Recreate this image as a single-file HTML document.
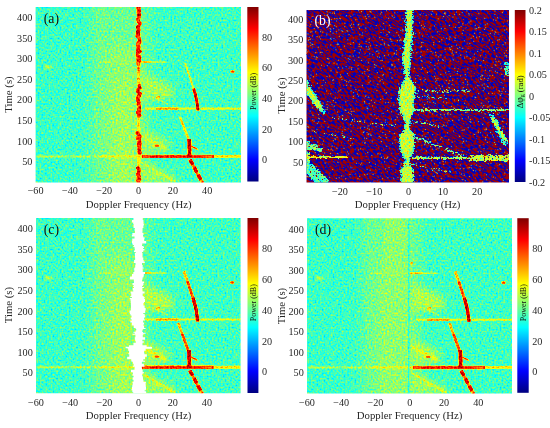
<!DOCTYPE html><html><head><meta charset="utf-8"><style>html,body{margin:0;padding:0;background:#fff;overflow:hidden}svg{display:block}</style></head><body>
<svg width="550" height="428" viewBox="0 0 550 428">
<defs><linearGradient id="cbjet" x1="0" y1="0" x2="0" y2="1"><stop offset="0.0000" stop-color="#800000"/><stop offset="0.0156" stop-color="#8f0000"/><stop offset="0.0312" stop-color="#9f0000"/><stop offset="0.0469" stop-color="#af0000"/><stop offset="0.0625" stop-color="#bf0000"/><stop offset="0.0781" stop-color="#cf0000"/><stop offset="0.0938" stop-color="#df0000"/><stop offset="0.1094" stop-color="#ef0000"/><stop offset="0.1250" stop-color="#ff0000"/><stop offset="0.1406" stop-color="#ff1000"/><stop offset="0.1562" stop-color="#ff2000"/><stop offset="0.1719" stop-color="#ff3000"/><stop offset="0.1875" stop-color="#ff4000"/><stop offset="0.2031" stop-color="#ff5000"/><stop offset="0.2188" stop-color="#ff6000"/><stop offset="0.2344" stop-color="#ff7000"/><stop offset="0.2500" stop-color="#ff8000"/><stop offset="0.2656" stop-color="#ff8f00"/><stop offset="0.2812" stop-color="#ff9f00"/><stop offset="0.2969" stop-color="#ffaf00"/><stop offset="0.3125" stop-color="#ffbf00"/><stop offset="0.3281" stop-color="#ffcf00"/><stop offset="0.3438" stop-color="#ffdf00"/><stop offset="0.3594" stop-color="#ffef00"/><stop offset="0.3750" stop-color="#ffff00"/><stop offset="0.3906" stop-color="#efff10"/><stop offset="0.4062" stop-color="#dfff20"/><stop offset="0.4219" stop-color="#cfff30"/><stop offset="0.4375" stop-color="#bfff40"/><stop offset="0.4531" stop-color="#afff50"/><stop offset="0.4688" stop-color="#9fff60"/><stop offset="0.4844" stop-color="#8fff70"/><stop offset="0.5000" stop-color="#80ff80"/><stop offset="0.5156" stop-color="#70ff8f"/><stop offset="0.5312" stop-color="#60ff9f"/><stop offset="0.5469" stop-color="#50ffaf"/><stop offset="0.5625" stop-color="#40ffbf"/><stop offset="0.5781" stop-color="#30ffcf"/><stop offset="0.5938" stop-color="#20ffdf"/><stop offset="0.6094" stop-color="#10ffef"/><stop offset="0.6250" stop-color="#00ffff"/><stop offset="0.6406" stop-color="#00efff"/><stop offset="0.6562" stop-color="#00dfff"/><stop offset="0.6719" stop-color="#00cfff"/><stop offset="0.6875" stop-color="#00bfff"/><stop offset="0.7031" stop-color="#00afff"/><stop offset="0.7188" stop-color="#009fff"/><stop offset="0.7344" stop-color="#008fff"/><stop offset="0.7500" stop-color="#0080ff"/><stop offset="0.7656" stop-color="#0070ff"/><stop offset="0.7812" stop-color="#0060ff"/><stop offset="0.7969" stop-color="#0050ff"/><stop offset="0.8125" stop-color="#0040ff"/><stop offset="0.8281" stop-color="#0030ff"/><stop offset="0.8438" stop-color="#0020ff"/><stop offset="0.8594" stop-color="#0010ff"/><stop offset="0.8750" stop-color="#0000ff"/><stop offset="0.8906" stop-color="#0000ef"/><stop offset="0.9062" stop-color="#0000df"/><stop offset="0.9219" stop-color="#0000cf"/><stop offset="0.9375" stop-color="#0000bf"/><stop offset="0.9531" stop-color="#0000af"/><stop offset="0.9688" stop-color="#00009f"/><stop offset="0.9844" stop-color="#00008f"/><stop offset="1.0000" stop-color="#000080"/></linearGradient><filter id="fa" filterUnits="userSpaceOnUse" x="0" y="0" width="260" height="190" color-interpolation-filters="sRGB">
<feTurbulence type="fractalNoise" baseFrequency="0.55" numOctaves="1" seed="3" result="t"/>
<feColorMatrix in="t" type="matrix" values="1 0 0 0 0 1 0 0 0 0 1 0 0 0 0 0 0 0 0 1" result="n"/>
<feComposite in="SourceGraphic" in2="n" operator="arithmetic" k1="0" k2="1" k3="0.36" k4="-0.18" result="s"/>
<feComponentTransfer in="s" result="c">
<feFuncR type="table" tableValues="0.000 0.000 0.000 0.000 0.000 0.000 0.000 0.000 0.000 0.000 0.000 0.000 0.000 0.000 0.000 0.000 0.000 0.000 0.000 0.000 0.000 0.000 0.000 0.000 0.000 0.062 0.125 0.188 0.250 0.312 0.375 0.438 0.500 0.562 0.625 0.688 0.750 0.812 0.875 0.938 1.000 1.000 1.000 1.000 1.000 1.000 1.000 1.000 1.000 1.000 1.000 1.000 1.000 1.000 1.000 1.000 1.000 0.938 0.875 0.812 0.750 0.688 0.625 0.562 0.500"/>
<feFuncG type="table" tableValues="0.000 0.000 0.000 0.000 0.000 0.000 0.000 0.000 0.000 0.062 0.125 0.188 0.250 0.312 0.375 0.438 0.500 0.562 0.625 0.688 0.750 0.812 0.875 0.938 1.000 1.000 1.000 1.000 1.000 1.000 1.000 1.000 1.000 1.000 1.000 1.000 1.000 1.000 1.000 1.000 1.000 0.938 0.875 0.812 0.750 0.688 0.625 0.562 0.500 0.438 0.375 0.312 0.250 0.188 0.125 0.062 0.000 0.000 0.000 0.000 0.000 0.000 0.000 0.000 0.000"/>
<feFuncB type="table" tableValues="0.500 0.562 0.625 0.688 0.750 0.812 0.875 0.938 1.000 1.000 1.000 1.000 1.000 1.000 1.000 1.000 1.000 1.000 1.000 1.000 1.000 1.000 1.000 1.000 1.000 0.938 0.875 0.812 0.750 0.688 0.625 0.562 0.500 0.438 0.375 0.312 0.250 0.188 0.125 0.062 0.000 0.000 0.000 0.000 0.000 0.000 0.000 0.000 0.000 0.000 0.000 0.000 0.000 0.000 0.000 0.000 0.000 0.000 0.000 0.000 0.000 0.000 0.000 0.000 0.000"/>
</feComponentTransfer>
<feGaussianBlur in="c" stdDeviation="0.6"/>
</filter><filter id="bl3" x="-50%" y="-50%" width="200%" height="200%"><feGaussianBlur stdDeviation="3"/></filter><filter id="rag" x="-10%" y="-10%" width="120%" height="120%" color-interpolation-filters="sRGB"><feTurbulence type="fractalNoise" baseFrequency="0.25" numOctaves="2" seed="5" result="t"/><feDisplacementMap in="SourceGraphic" in2="t" scale="6" xChannelSelector="R" yChannelSelector="G" result="d"/><feGaussianBlur in="d" stdDeviation="0.6"/></filter><filter id="bl05" x="-10%" y="-10%" width="120%" height="120%"><feGaussianBlur stdDeviation="0.5"/></filter><filter id="bl1" x="-50%" y="-50%" width="200%" height="200%"><feGaussianBlur stdDeviation="1"/></filter><filter id="bl6" x="-50%" y="-50%" width="200%" height="200%"><feGaussianBlur stdDeviation="6"/></filter><filter id="fb1" filterUnits="userSpaceOnUse" x="200" y="-120" width="420" height="430" color-interpolation-filters="sRGB">
<feTurbulence type="fractalNoise" baseFrequency="0.26 0.85" numOctaves="1" seed="7" result="t"/>
<feColorMatrix in="t" type="matrix" values="1 0 0 0 0 1 0 0 0 0 1 0 0 0 0 0 0 0 0 1" result="n"/>
<feComponentTransfer in="n" result="c">
<feFuncR type="table" tableValues="0.000 0.000 0.000 0.000 0.000 0.000 0.000 0.000 0.000 0.000 0.000 0.000 0.000 0.000 0.000 0.000 0.000 0.000 0.000 0.000 0.000 0.000 0.000 0.000 0.000 0.000 0.000 0.000 0.000 0.000 0.000 0.000 0.000 0.000 0.000 0.000 0.000 0.000 0.000 0.000 0.000 0.000 0.000 0.000 0.000 0.000 0.000 0.000 0.000 0.000 0.000 0.000 0.000 0.000 0.000 0.000 0.000 0.000 0.000 0.000 0.000 0.000 0.000 0.000 0.000 0.000 0.000 0.000 0.000 0.000 0.000 0.000 0.000 0.000 0.000 0.000 0.000 0.000 0.000 0.000 0.000 0.000 0.000 0.000 0.000 0.000 0.000 0.000 0.000 0.000 0.000 0.000 0.000 0.000 0.000 0.000 0.000 0.000 0.000 0.000 0.000 0.000 0.000 0.000 0.000 0.000 0.000 0.000 0.000 0.000 0.000 0.000 0.000 0.000 0.000 0.000 0.000 0.000 0.000 0.000 0.000 0.000 0.000 0.000 0.000 0.000 0.000 0.000 0.556 1.000 0.628 0.628 0.628 0.628 0.628 0.628 0.628 0.628 0.628 0.628 0.628 0.628 0.628 0.628 0.628 0.628 0.628 0.628 0.628 0.628 0.628 0.628 0.628 0.628 0.628 0.628 0.628 0.628 0.628 0.628 0.628 0.628 0.628 0.628 0.628 0.628 0.628 0.628 0.628 0.628 0.628 0.628 0.628 0.628 0.628 0.628 0.628 0.628 0.628 0.628 0.628 0.628 0.628 0.628 0.628 0.628 0.628 0.628 0.628 0.628 0.628 0.628 0.628 0.628 0.628 0.628 0.628 0.628 0.628 0.628 0.628 0.628 0.628 0.628 0.628 0.628 0.628 0.628 0.628 0.628 0.628 0.628 0.628 0.628 0.628 0.628 0.628 0.628 0.628 0.628 0.628 0.628 0.628 0.628 0.628 0.628 0.628 0.628 0.628 0.628 0.628 0.628 0.628 0.628 0.628 0.628 0.628 0.628 0.628 0.628 0.628 0.628 0.628 0.628 0.628 0.628 0.628 0.628 0.628 0.628 0.628 0.628 0.628 0.628 0.628 0.628 0.628"/>
<feFuncG type="table" tableValues="0.000 0.000 0.000 0.000 0.000 0.000 0.000 0.000 0.000 0.000 0.000 0.000 0.000 0.000 0.000 0.000 0.000 0.000 0.000 0.000 0.000 0.000 0.000 0.000 0.000 0.000 0.000 0.000 0.000 0.000 0.000 0.000 0.000 0.000 0.000 0.000 0.000 0.000 0.000 0.000 0.000 0.000 0.000 0.000 0.000 0.000 0.000 0.000 0.000 0.000 0.000 0.000 0.000 0.000 0.000 0.000 0.000 0.000 0.000 0.000 0.000 0.000 0.000 0.000 0.000 0.000 0.000 0.000 0.000 0.000 0.000 0.000 0.000 0.000 0.000 0.000 0.000 0.000 0.000 0.000 0.000 0.000 0.000 0.000 0.000 0.000 0.000 0.000 0.000 0.000 0.000 0.000 0.000 0.000 0.000 0.000 0.000 0.000 0.000 0.000 0.000 0.000 0.000 0.000 0.000 0.000 0.000 0.000 0.000 0.000 0.000 0.000 0.000 0.000 0.000 0.000 0.000 0.000 0.000 0.000 0.000 0.000 0.000 0.000 0.000 0.000 0.000 0.374 1.000 0.262 0.000 0.000 0.000 0.000 0.000 0.000 0.000 0.000 0.000 0.000 0.000 0.000 0.000 0.000 0.000 0.000 0.000 0.000 0.000 0.000 0.000 0.000 0.000 0.000 0.000 0.000 0.000 0.000 0.000 0.000 0.000 0.000 0.000 0.000 0.000 0.000 0.000 0.000 0.000 0.000 0.000 0.000 0.000 0.000 0.000 0.000 0.000 0.000 0.000 0.000 0.000 0.000 0.000 0.000 0.000 0.000 0.000 0.000 0.000 0.000 0.000 0.000 0.000 0.000 0.000 0.000 0.000 0.000 0.000 0.000 0.000 0.000 0.000 0.000 0.000 0.000 0.000 0.000 0.000 0.000 0.000 0.000 0.000 0.000 0.000 0.000 0.000 0.000 0.000 0.000 0.000 0.000 0.000 0.000 0.000 0.000 0.000 0.000 0.000 0.000 0.000 0.000 0.000 0.000 0.000 0.000 0.000 0.000 0.000 0.000 0.000 0.000 0.000 0.000 0.000 0.000 0.000 0.000 0.000 0.000 0.000 0.000 0.000 0.000 0.000 0.000 0.000"/>
<feFuncB type="table" tableValues="0.740 0.740 0.740 0.740 0.740 0.740 0.740 0.740 0.740 0.740 0.740 0.740 0.740 0.740 0.740 0.740 0.740 0.740 0.740 0.740 0.740 0.740 0.740 0.740 0.740 0.740 0.740 0.740 0.740 0.740 0.740 0.740 0.740 0.740 0.740 0.740 0.740 0.740 0.740 0.740 0.740 0.740 0.740 0.740 0.740 0.740 0.740 0.740 0.740 0.740 0.740 0.740 0.740 0.740 0.740 0.740 0.740 0.740 0.740 0.740 0.740 0.740 0.740 0.740 0.740 0.740 0.740 0.740 0.740 0.740 0.740 0.740 0.740 0.740 0.740 0.740 0.740 0.740 0.740 0.740 0.740 0.740 0.740 0.740 0.740 0.740 0.740 0.740 0.740 0.740 0.740 0.740 0.740 0.740 0.740 0.740 0.740 0.740 0.740 0.740 0.740 0.740 0.740 0.740 0.740 0.740 0.740 0.740 0.740 0.740 0.740 0.740 0.740 0.740 0.740 0.740 0.740 0.740 0.740 0.740 0.740 0.740 0.740 0.740 0.740 0.740 0.740 1.000 0.444 0.000 0.000 0.000 0.000 0.000 0.000 0.000 0.000 0.000 0.000 0.000 0.000 0.000 0.000 0.000 0.000 0.000 0.000 0.000 0.000 0.000 0.000 0.000 0.000 0.000 0.000 0.000 0.000 0.000 0.000 0.000 0.000 0.000 0.000 0.000 0.000 0.000 0.000 0.000 0.000 0.000 0.000 0.000 0.000 0.000 0.000 0.000 0.000 0.000 0.000 0.000 0.000 0.000 0.000 0.000 0.000 0.000 0.000 0.000 0.000 0.000 0.000 0.000 0.000 0.000 0.000 0.000 0.000 0.000 0.000 0.000 0.000 0.000 0.000 0.000 0.000 0.000 0.000 0.000 0.000 0.000 0.000 0.000 0.000 0.000 0.000 0.000 0.000 0.000 0.000 0.000 0.000 0.000 0.000 0.000 0.000 0.000 0.000 0.000 0.000 0.000 0.000 0.000 0.000 0.000 0.000 0.000 0.000 0.000 0.000 0.000 0.000 0.000 0.000 0.000 0.000 0.000 0.000 0.000 0.000 0.000 0.000 0.000 0.000 0.000 0.000 0.000 0.000"/>
</feComponentTransfer>
<feGaussianBlur in="c" stdDeviation="0.6"/>
</filter><filter id="fbf" filterUnits="userSpaceOnUse" x="300" y="0" width="220" height="190" color-interpolation-filters="sRGB">
<feTurbulence type="fractalNoise" baseFrequency="0.32" numOctaves="2" seed="5" result="t"/>
<feDisplacementMap in="SourceGraphic" in2="t" scale="4" xChannelSelector="R" yChannelSelector="G" result="sh"/>
<feTurbulence type="fractalNoise" baseFrequency="0.55" numOctaves="1" seed="9" result="t2"/>
<feColorMatrix in="t2" type="matrix" values="1 0 0 0 0 1 0 0 0 0 1 0 0 0 0 0 0 0 0 1" result="n"/>
<feColorMatrix in="sh" type="matrix" values="1 0 0 0 0 1 0 0 0 0 1 0 0 0 0 0 0 0 0 1" result="vg"/>
<feComposite in="vg" in2="n" operator="arithmetic" k1="0" k2="1" k3="0.5" k4="-0.25" result="v"/>
<feComponentTransfer in="v" result="col">
<feFuncR type="table" tableValues="0.000 0.000 0.000 0.000 0.000 0.000 0.000 0.000 0.000 0.000 0.000 0.000 0.000 0.000 0.000 0.000 0.000 0.000 0.000 0.000 0.000 0.000 0.000 0.000 0.000 0.062 0.125 0.188 0.250 0.312 0.375 0.438 0.500 0.562 0.625 0.688 0.750 0.812 0.875 0.938 1.000 1.000 1.000 1.000 1.000 1.000 1.000 1.000 1.000 1.000 1.000 1.000 1.000 1.000 1.000 1.000 1.000 0.938 0.875 0.812 0.750 0.688 0.625 0.562 0.500"/>
<feFuncG type="table" tableValues="0.000 0.000 0.000 0.000 0.000 0.000 0.000 0.000 0.000 0.062 0.125 0.188 0.250 0.312 0.375 0.438 0.500 0.562 0.625 0.688 0.750 0.812 0.875 0.938 1.000 1.000 1.000 1.000 1.000 1.000 1.000 1.000 1.000 1.000 1.000 1.000 1.000 1.000 1.000 1.000 1.000 0.938 0.875 0.812 0.750 0.688 0.625 0.562 0.500 0.438 0.375 0.312 0.250 0.188 0.125 0.062 0.000 0.000 0.000 0.000 0.000 0.000 0.000 0.000 0.000"/>
<feFuncB type="table" tableValues="0.500 0.562 0.625 0.688 0.750 0.812 0.875 0.938 1.000 1.000 1.000 1.000 1.000 1.000 1.000 1.000 1.000 1.000 1.000 1.000 1.000 1.000 1.000 1.000 1.000 0.938 0.875 0.812 0.750 0.688 0.625 0.562 0.500 0.438 0.375 0.312 0.250 0.188 0.125 0.062 0.000 0.000 0.000 0.000 0.000 0.000 0.000 0.000 0.000 0.000 0.000 0.000 0.000 0.000 0.000 0.000 0.000 0.000 0.000 0.000 0.000 0.000 0.000 0.000 0.000"/>
</feComponentTransfer>
<feColorMatrix in="sh" type="matrix" values="0 0 0 0 0 0 0 0 0 0 0 0 0 0 0 0 1 0 0 0" result="mg"/>
<feTurbulence type="fractalNoise" baseFrequency="0.5 0.9" numOctaves="1" seed="13" result="t3"/>
<feColorMatrix in="t3" type="matrix" values="0 0 0 0 0 0 0 0 0 0 0 0 0 0 0 1 0 0 0 0" result="n3"/>
<feComposite in="mg" in2="n3" operator="arithmetic" k1="0" k2="1" k3="1.6" k4="-0.8" result="mm"/>
<feComponentTransfer in="mm" result="m"><feFuncA type="linear" slope="8" intercept="-3.2"/></feComponentTransfer>
<feComposite in="col" in2="m" operator="in" result="o"/>
<feGaussianBlur in="o" stdDeviation="0.5"/>
</filter><clipPath id="clipA"><rect x="35.6" y="7" width="205.40" height="175.50"/></clipPath><clipPath id="clipB"><rect x="306.5" y="10" width="202.50" height="172.60"/></clipPath><clipPath id="clipC"><rect x="36" y="218" width="204.60" height="175.30"/></clipPath><clipPath id="clipD"><rect x="307" y="218.3" width="205.00" height="175.20"/></clipPath></defs>
<rect width="550" height="428" fill="#fff"/>
<g clip-path="url(#clipA)"><g filter="url(#fa)"><rect x="30" y="0" width="220" height="190" fill="#6f6f6f"/><g filter="url(#bl6)"><rect x="30" y="0" width="60" height="190" fill="#6e6e6e"/><rect x="92" y="0" width="46" height="190" fill="#7d7d7d"/><rect x="110" y="0" width="28" height="190" fill="#838383"/><rect x="100" y="-10" width="38" height="55" fill="#7a7a7a"/><rect x="112" y="80" width="26" height="110" fill="#878787"/><rect x="139" y="0" width="10" height="190" fill="#7d7d7d"/></g><g filter="url(#bl3)"><path d="M141 72 L170 84 L176 98 L141 100Z" fill="#878787"/><path d="M141 128 L168 140 L170 152 L141 152Z" fill="#878787"/><path d="M141 160 L176 176 L176 184 L141 184Z" fill="#858585"/></g><g filter="url(#bl05)"><path d="M141 136 L166 149" stroke="#919191" stroke-width="3.2"/><path d="M141 162 L175 182" stroke="#919191" stroke-width="2"/><path d="M141 170 L173 178" stroke="#8f8f8f" stroke-width="1.8"/><path d="M141 80 L168 96" stroke="#8f8f8f" stroke-width="1.8"/><path d="M141 92 L168 104" stroke="#8c8c8c" stroke-width="1.8"/><ellipse cx="156.6" cy="145.7" rx="2.4" ry="1.6" fill="#c2c2c2"/><ellipse cx="158" cy="97" rx="2.4" ry="1.5" fill="#adadad"/><path d="M100 62 H138" stroke="#8a8a8a" stroke-width="1.5"/><path d="M138 62 H165" stroke="#919191" stroke-width="1.6"/><path d="M138 62 H151" stroke="#a8a8a8" stroke-width="1.9"/><circle cx="140.5" cy="52" r="1.3" fill="#b2b2b2"/><path d="M36 156.4 H100" stroke="#8c8c8c" stroke-width="2"/><path d="M100 156.4 H138" stroke="#9c9c9c" stroke-width="2.2"/><path d="M138 156.4 H241" stroke="#a3a3a3" stroke-width="2.8"/><path d="M142 156.4 H214" stroke="#cccccc" stroke-width="3.4"/><path d="M150 156.6 H205" stroke="#dbdbdb" stroke-width="1.8"/><path d="M145 108.6 H241" stroke="#9e9e9e" stroke-width="2.2"/><path d="M156 108.6 H178" stroke="#b8b8b8" stroke-width="2.2"/><path d="M185 63 L193.8 88.7" stroke="#a1a1a1" stroke-width="1.8"/><path d="M193.5 88.5 Q197 98 198 110.7" stroke="#e8e8e8" stroke-width="3.2" fill="none"/><path d="M180 117 L188.6 139.3" stroke="#a6a6a6" stroke-width="2.4"/><path d="M189.3 139 L189.6 157" stroke="#ebebeb" stroke-width="4"/><path d="M191 146 L197.5 149.5" stroke="#cccccc" stroke-width="1.8"/><path d="M190 159.5 L202.5 183" stroke="#b8b8b8" stroke-width="3.2"/><path d="M190 159.5 L202.5 183" stroke="#e6e6e6" stroke-width="3.8" stroke-dasharray="6 2.5"/><ellipse cx="232.5" cy="71.5" rx="2.2" ry="1.6" fill="#c2c2c2"/></g><ellipse cx="48" cy="67" rx="3.6" ry="1.9" fill="#919191" filter="url(#bl1)"/><path d="M138.6 0 V190" stroke="#8c8c8c" stroke-width="6" filter="url(#bl1)"/><path d="M138.6 60 V190" stroke="#a1a1a1" stroke-width="3.4"/><ellipse cx="138.9" cy="5.0" rx="1.9" ry="1.9" fill="#cdcdcd"/><ellipse cx="139.0" cy="6.8" rx="1.8" ry="2.0" fill="#eaeaea"/><ellipse cx="137.9" cy="8.0" rx="1.7" ry="1.9" fill="#dddddd"/><ellipse cx="138.7" cy="9.7" rx="2.1" ry="2.3" fill="#d3d3d3"/><ellipse cx="139.3" cy="10.9" rx="1.9" ry="1.8" fill="#e3e3e3"/><ellipse cx="138.2" cy="12.9" rx="1.8" ry="2.4" fill="#cfcfcf"/><ellipse cx="139.3" cy="14.6" rx="2.0" ry="2.5" fill="#e4e4e4"/><ellipse cx="138.7" cy="16.1" rx="2.1" ry="2.4" fill="#e7e7e7"/><ellipse cx="139.1" cy="17.8" rx="1.8" ry="1.9" fill="#cecece"/><ellipse cx="138.0" cy="19.0" rx="1.9" ry="2.2" fill="#cfcfcf"/><ellipse cx="138.3" cy="20.5" rx="1.9" ry="2.4" fill="#d3d3d3"/><ellipse cx="138.9" cy="22.2" rx="2.1" ry="1.8" fill="#d2d2d2"/><ellipse cx="139.8" cy="23.7" rx="2.0" ry="2.2" fill="#e1e1e1"/><ellipse cx="139.3" cy="25.6" rx="1.7" ry="2.0" fill="#d4d4d4"/><ellipse cx="137.9" cy="27.0" rx="2.2" ry="2.0" fill="#ebebeb"/><ellipse cx="138.3" cy="28.7" rx="2.0" ry="1.9" fill="#eaeaea"/><ellipse cx="138.7" cy="30.1" rx="2.1" ry="2.4" fill="#d5d5d5"/><ellipse cx="137.9" cy="31.7" rx="2.0" ry="1.8" fill="#ededed"/><ellipse cx="137.7" cy="32.9" rx="2.2" ry="2.0" fill="#e1e1e1"/><ellipse cx="138.3" cy="34.1" rx="2.0" ry="2.5" fill="#ededed"/><ellipse cx="137.4" cy="36.0" rx="2.1" ry="2.1" fill="#e4e4e4"/><ellipse cx="138.9" cy="37.4" rx="2.0" ry="2.1" fill="#d0d0d0"/><ellipse cx="139.5" cy="39.4" rx="2.0" ry="1.8" fill="#d5d5d5"/><ellipse cx="139.5" cy="41.3" rx="2.1" ry="2.2" fill="#d6d6d6"/><ellipse cx="139.2" cy="42.7" rx="2.2" ry="2.1" fill="#dedede"/><ellipse cx="138.2" cy="43.9" rx="2.3" ry="2.4" fill="#cdcdcd"/><ellipse cx="138.1" cy="45.7" rx="2.2" ry="2.5" fill="#cecece"/><ellipse cx="138.6" cy="47.0" rx="2.2" ry="2.3" fill="#cecece"/><ellipse cx="138.5" cy="48.3" rx="1.9" ry="2.4" fill="#dedede"/><ellipse cx="137.9" cy="49.8" rx="2.1" ry="1.9" fill="#dedede"/><ellipse cx="139.8" cy="51.3" rx="2.0" ry="2.1" fill="#e2e2e2"/><ellipse cx="137.9" cy="52.6" rx="2.1" ry="1.9" fill="#d7d7d7"/><ellipse cx="137.6" cy="54.0" rx="1.8" ry="2.4" fill="#e1e1e1"/><ellipse cx="137.6" cy="55.9" rx="2.1" ry="1.9" fill="#d4d4d4"/><ellipse cx="139.6" cy="57.2" rx="2.0" ry="2.3" fill="#dfdfdf"/><ellipse cx="137.9" cy="59.0" rx="2.0" ry="2.0" fill="#cfcfcf"/><ellipse cx="139.1" cy="60.6" rx="2.3" ry="1.8" fill="#e2e2e2"/><ellipse cx="138.2" cy="62.1" rx="1.8" ry="1.9" fill="#e9e9e9"/><ellipse cx="138.4" cy="63.7" rx="1.8" ry="2.4" fill="#d5d5d5"/><ellipse cx="139.5" cy="86.0" rx="1.7" ry="2.5" fill="#dedede"/><ellipse cx="139.7" cy="87.9" rx="2.2" ry="1.8" fill="#ebebeb"/><ellipse cx="137.9" cy="89.5" rx="1.7" ry="2.0" fill="#d9d9d9"/><ellipse cx="138.0" cy="91.4" rx="2.0" ry="2.0" fill="#e6e6e6"/><ellipse cx="139.8" cy="93.4" rx="2.1" ry="1.8" fill="#dedede"/><ellipse cx="139.7" cy="94.8" rx="2.0" ry="2.3" fill="#dfdfdf"/><ellipse cx="138.8" cy="96.1" rx="2.2" ry="1.8" fill="#dddddd"/><ellipse cx="137.6" cy="98.1" rx="2.1" ry="2.2" fill="#d2d2d2"/><ellipse cx="137.7" cy="99.5" rx="1.8" ry="2.2" fill="#eaeaea"/><ellipse cx="138.4" cy="101.1" rx="2.0" ry="2.4" fill="#dfdfdf"/><ellipse cx="139.1" cy="102.5" rx="1.9" ry="2.2" fill="#d4d4d4"/><ellipse cx="138.2" cy="104.0" rx="1.7" ry="2.1" fill="#e5e5e5"/><ellipse cx="139.8" cy="105.9" rx="1.8" ry="1.9" fill="#cecece"/><ellipse cx="139.5" cy="107.9" rx="1.9" ry="1.8" fill="#e9e9e9"/><ellipse cx="139.1" cy="109.8" rx="2.3" ry="2.2" fill="#e0e0e0"/><ellipse cx="139.4" cy="111.0" rx="2.1" ry="2.5" fill="#d6d6d6"/><ellipse cx="137.7" cy="112.3" rx="2.0" ry="1.9" fill="#d0d0d0"/><ellipse cx="139.1" cy="114.0" rx="2.1" ry="1.9" fill="#d3d3d3"/><ellipse cx="139.6" cy="115.6" rx="1.8" ry="2.0" fill="#e8e8e8"/><ellipse cx="137.4" cy="133.0" rx="2.1" ry="1.9" fill="#e6e6e6"/><ellipse cx="138.7" cy="134.8" rx="1.7" ry="1.8" fill="#dadada"/><ellipse cx="139.6" cy="136.7" rx="2.2" ry="2.2" fill="#dedede"/><ellipse cx="137.7" cy="138.0" rx="2.2" ry="2.3" fill="#d6d6d6"/><ellipse cx="139.6" cy="139.9" rx="1.8" ry="1.8" fill="#d3d3d3"/><ellipse cx="139.5" cy="141.7" rx="2.1" ry="1.8" fill="#d9d9d9"/><ellipse cx="139.5" cy="143.7" rx="2.2" ry="2.4" fill="#ececec"/><ellipse cx="139.2" cy="144.9" rx="2.3" ry="2.3" fill="#d7d7d7"/><ellipse cx="139.3" cy="146.8" rx="2.2" ry="1.8" fill="#d5d5d5"/><ellipse cx="139.5" cy="148.7" rx="2.2" ry="2.1" fill="#d3d3d3"/><ellipse cx="139.3" cy="150.1" rx="1.7" ry="1.9" fill="#d4d4d4"/><ellipse cx="139.5" cy="151.6" rx="1.9" ry="2.2" fill="#ececec"/><ellipse cx="139.8" cy="153.1" rx="2.3" ry="1.8" fill="#dedede"/><ellipse cx="137.8" cy="168.0" rx="1.9" ry="1.8" fill="#ececec"/><ellipse cx="139.1" cy="169.5" rx="2.1" ry="2.1" fill="#d6d6d6"/><ellipse cx="138.8" cy="171.1" rx="2.1" ry="1.7" fill="#d4d4d4"/><ellipse cx="138.7" cy="173.0" rx="2.1" ry="2.2" fill="#e4e4e4"/><ellipse cx="137.6" cy="174.5" rx="1.9" ry="2.0" fill="#e2e2e2"/><ellipse cx="139.1" cy="176.4" rx="1.9" ry="2.0" fill="#d6d6d6"/><ellipse cx="138.1" cy="177.9" rx="2.0" ry="2.5" fill="#d0d0d0"/><ellipse cx="139.6" cy="179.6" rx="1.9" ry="2.1" fill="#e0e0e0"/><ellipse cx="138.1" cy="180.8" rx="2.0" ry="2.2" fill="#dadada"/><ellipse cx="138.5" cy="182.4" rx="2.0" ry="2.4" fill="#d3d3d3"/><ellipse cx="137.8" cy="184.2" rx="2.0" ry="2.2" fill="#cfcfcf"/><ellipse cx="139.4" cy="185.7" rx="2.1" ry="1.9" fill="#e5e5e5"/><ellipse cx="138.1" cy="64.0" rx="1.6" ry="1.4" fill="#c1c1c1"/><ellipse cx="138.4" cy="68.4" rx="1.6" ry="1.4" fill="#c6c6c6"/><ellipse cx="139.0" cy="70.6" rx="1.6" ry="1.4" fill="#c2c2c2"/><ellipse cx="138.9" cy="72.8" rx="1.6" ry="1.4" fill="#b3b3b3"/><ellipse cx="138.5" cy="79.4" rx="1.6" ry="1.4" fill="#b8b8b8"/><ellipse cx="138.1" cy="116.0" rx="1.6" ry="1.4" fill="#cccccc"/></g></g>
<g clip-path="url(#clipB)"><g transform="rotate(35 408 96)"><rect x="250" y="-60" width="320" height="320" fill="#fff" filter="url(#fb1)"/></g>
<g filter="url(#fbf)"><rect x="300" y="0" width="220" height="190" fill="#000"/><path d="M405.5 5.0 L405.0 29.0 L404.0 40.0 L403.0 50.0 L401.5 58.0 L402.0 64.0 L403.5 71.0 L404.5 78.0 L402.0 84.0 L398.5 88.0 L398.0 100.0 L399.0 112.0 L403.0 118.0 L404.5 124.0 L403.5 130.0 L398.5 135.0 L398.5 148.0 L401.5 155.0 L404.5 160.0 L403.5 165.0 L400.0 170.0 L400.0 176.0 L400.0 188.0 L414.5 188.0 L414.5 176.0 L414.0 170.0 L411.0 165.0 L410.5 160.0 L412.5 155.0 L415.0 148.0 L415.0 135.0 L411.0 130.0 L410.5 124.0 L411.5 118.0 L414.0 112.0 L414.5 100.0 L417.0 88.0 L415.0 84.0 L411.0 78.0 L410.0 71.0 L411.0 64.0 L411.5 58.0 L412.0 50.0 L413.0 40.0 L413.5 29.0 L414.0 5.0Z" fill="#709400"/><path d="M407.5 5.0 L407.0 29.0 L406.0 40.0 L405.0 50.0 L403.5 58.0 L404.0 64.0 L405.5 71.0 L406.5 78.0 L404.0 84.0 L400.5 88.0 L400.0 100.0 L401.0 112.0 L405.0 118.0 L406.5 124.0 L405.5 130.0 L400.5 135.0 L400.5 148.0 L403.5 155.0 L406.5 160.0 L405.5 165.0 L402.0 170.0 L402.0 176.0 L402.0 188.0 L412.5 188.0 L412.5 176.0 L412.0 170.0 L409.0 165.0 L408.5 160.0 L410.5 155.0 L413.0 148.0 L413.0 135.0 L409.0 130.0 L408.5 124.0 L409.5 118.0 L412.0 112.0 L412.5 100.0 L415.0 88.0 L413.0 84.0 L409.0 78.0 L408.0 71.0 L409.0 64.0 L409.5 58.0 L410.0 50.0 L411.0 40.0 L411.5 29.0 L412.0 5.0Z" fill="#90ff00"/><path d="M300 76 L306 79 L312 88 L318 98 L324 108 L325 113 L320 113 L313 104 L306 95 L300 92Z" fill="#709400"/><path d="M306 84 L312 92 L318 101 L322 109 L319 109 L312 100 L306 91Z" fill="#90ff00"/><path d="M300 140 L308 142 L322 148 L322 152 L310 150 L300 150Z" fill="#80b200"/><path d="M300 150 L310 152 L310 166 L300 166Z" fill="#80b200"/><path d="M300 155.8 H347 V158.3 H300Z" fill="#9ed900"/><path d="M300 160 L310 163 L320 171 L329 180 L328 186 L318 186 L310 177 L300 170Z" fill="#73b200"/><path d="M412 109 H515 V111 H412Z" fill="#80a600"/><path d="M412 156.5 H515 V159 H412Z" fill="#8cb200"/><path d="M470 155 H515 V161 H470Z" fill="#8f9e00"/><path d="M414 90 H470 V92 H414Z" fill="#806b00"/><path d="M412 136 L463 155.5" stroke="#808c00" stroke-width="2.2"/><path d="M412 165 L452 172" stroke="#806b00" stroke-width="1.8"/><path d="M413 121 L446 128" stroke="#806600" stroke-width="1.8"/><path d="M414 96 L460 100" stroke="#806600" stroke-width="1.6"/><path d="M306 130 L360 140" stroke="#806100" stroke-width="1.6"/><path d="M330 118 L395 126" stroke="#806100" stroke-width="1.5"/><path d="M488.5 114 L493.5 114 L508 140 L508 146 L503 145Z" fill="#709400"/><path d="M491 118 L494 118 L506 139 L505 142Z" fill="#90ff00"/><path d="M503 63 L510 60 L512 78 L505 76Z" fill="#709400"/></g>
</g>
<g clip-path="url(#clipC)"><g transform="translate(36 218) scale(0.9961 0.9989) translate(-35.6 -7)"><g filter="url(#fa)"><rect x="30" y="0" width="220" height="190" fill="#6f6f6f"/><g filter="url(#bl6)"><rect x="30" y="0" width="60" height="190" fill="#6e6e6e"/><rect x="92" y="0" width="46" height="190" fill="#7d7d7d"/><rect x="110" y="0" width="28" height="190" fill="#838383"/><rect x="100" y="-10" width="38" height="55" fill="#7a7a7a"/><rect x="112" y="80" width="26" height="110" fill="#878787"/><rect x="139" y="0" width="10" height="190" fill="#7d7d7d"/></g><g filter="url(#bl3)"><path d="M141 72 L170 84 L176 98 L141 100Z" fill="#8a8a8a"/><path d="M141 128 L168 140 L170 152 L141 152Z" fill="#8a8a8a"/><path d="M141 160 L176 176 L176 184 L141 184Z" fill="#858585"/></g><g filter="url(#bl05)"><path d="M141 136 L166 149" stroke="#999999" stroke-width="3.2"/><path d="M141 162 L175 182" stroke="#999999" stroke-width="2"/><path d="M141 170 L173 178" stroke="#8f8f8f" stroke-width="1.8"/><path d="M141 80 L168 96" stroke="#8f8f8f" stroke-width="1.8"/><path d="M141 92 L168 104" stroke="#8c8c8c" stroke-width="1.8"/><ellipse cx="156.6" cy="145.7" rx="2.4" ry="1.6" fill="#c2c2c2"/><ellipse cx="158" cy="97" rx="2.4" ry="1.5" fill="#adadad"/><path d="M100 62 H138" stroke="#8a8a8a" stroke-width="1.5"/><path d="M138 62 H165" stroke="#919191" stroke-width="1.6"/><path d="M138 62 H151" stroke="#a8a8a8" stroke-width="1.9"/><circle cx="140.5" cy="52" r="1.3" fill="#b2b2b2"/><path d="M36 156.4 H100" stroke="#8c8c8c" stroke-width="2"/><path d="M100 156.4 H138" stroke="#9c9c9c" stroke-width="2.2"/><path d="M138 156.4 H241" stroke="#a3a3a3" stroke-width="2.8"/><path d="M142 156.4 H214" stroke="#cccccc" stroke-width="3.4"/><path d="M150 156.6 H205" stroke="#dbdbdb" stroke-width="1.8"/><path d="M145 108.6 H241" stroke="#9e9e9e" stroke-width="2.2"/><path d="M156 108.6 H178" stroke="#b8b8b8" stroke-width="2.2"/><path d="M184 60 L193.8 88.7" stroke="#b2b2b2" stroke-width="2.8"/><path d="M187.5 70 L193.8 88.7" stroke="#cccccc" stroke-width="2.8"/><path d="M193.3 87 Q197 98 198 110.7" stroke="#ebebeb" stroke-width="3.6" fill="none"/><path d="M178.4 112 L188.5 140" stroke="#b2b2b2" stroke-width="2.8"/><path d="M182.5 123 L188.5 140" stroke="#cccccc" stroke-width="2.8"/><path d="M189.3 139 L189.6 157" stroke="#ebebeb" stroke-width="4"/><path d="M191 146 L197.5 149.5" stroke="#cccccc" stroke-width="1.8"/><path d="M190 159.5 L202.5 183" stroke="#b8b8b8" stroke-width="3.2"/><path d="M190 159.5 L202.5 183" stroke="#e6e6e6" stroke-width="3.8" stroke-dasharray="6 2.5"/><ellipse cx="232.5" cy="71.5" rx="2.2" ry="1.6" fill="#c2c2c2"/></g><ellipse cx="48" cy="67" rx="3.6" ry="1.9" fill="#919191" filter="url(#bl1)"/></g><path d="M132.1 4.0 L132.1 6.5 L133.4 6.5 L133.4 9.0 L131.9 9.0 L131.9 11.5 L133.2 11.5 L133.2 13.0 L133.6 13.0 L133.6 14.5 L133.5 14.5 L133.5 17.0 L134.8 17.0 L134.8 18.5 L134.3 18.5 L134.3 19.5 L135.0 19.5 L135.0 22.0 L132.3 22.0 L132.3 24.0 L131.8 24.0 L131.8 25.5 L134.5 25.5 L134.5 26.5 L134.5 26.5 L134.5 27.5 L132.2 27.5 L132.2 30.0 L131.9 30.0 L131.9 32.5 L132.6 32.5 L132.6 34.0 L133.9 34.0 L133.9 35.0 L133.3 35.0 L133.3 36.0 L134.5 36.0 L134.5 37.0 L134.6 37.0 L134.6 38.0 L134.8 38.0 L134.8 39.5 L133.9 39.5 L133.9 41.0 L135.7 41.0 L135.7 42.0 L134.9 42.0 L134.9 44.5 L134.9 44.5 L134.9 46.5 L135.1 46.5 L135.1 49.0 L134.1 49.0 L134.1 50.5 L133.8 50.5 L133.8 52.0 L135.5 52.0 L135.5 54.0 L135.2 54.0 L135.2 56.5 L134.5 56.5 L134.5 57.5 L133.7 57.5 L133.7 58.5 L134.3 58.5 L134.3 61.0 L133.3 61.0 L133.3 63.0 L132.0 63.0 L132.0 65.5 L130.1 65.5 L130.1 66.5 L129.8 66.5 L129.8 68.5 L133.8 68.5 L133.8 70.5 L134.0 70.5 L134.0 72.0 L132.5 72.0 L132.5 74.0 L133.6 74.0 L133.6 75.0 L133.1 75.0 L133.1 76.0 L133.9 76.0 L133.9 77.0 L132.7 77.0 L132.7 79.5 L133.3 79.5 L133.3 80.5 L130.6 80.5 L130.6 82.5 L131.2 82.5 L131.2 85.0 L130.3 85.0 L130.3 86.0 L131.9 86.0 L131.9 87.0 L129.8 87.0 L129.8 88.0 L130.4 88.0 L130.4 89.5 L130.7 89.5 L130.7 91.0 L130.7 91.0 L130.7 92.0 L130.9 92.0 L130.9 94.5 L131.0 94.5 L131.0 97.0 L130.8 97.0 L130.8 99.5 L129.5 99.5 L129.5 102.0 L129.9 102.0 L129.9 103.0 L130.4 103.0 L130.4 104.5 L131.5 104.5 L131.5 106.5 L130.6 106.5 L130.6 108.5 L131.8 108.5 L131.8 109.5 L130.3 109.5 L130.3 111.5 L131.8 111.5 L131.8 113.5 L131.7 113.5 L131.7 114.5 L133.7 114.5 L133.7 117.0 L135.6 117.0 L135.6 118.0 L136.2 118.0 L136.2 119.5 L135.6 119.5 L135.6 121.0 L133.3 121.0 L133.3 122.0 L134.8 122.0 L134.8 123.0 L132.5 123.0 L132.5 124.0 L135.4 124.0 L135.4 126.5 L134.8 126.5 L134.8 129.0 L135.2 129.0 L135.2 130.5 L135.8 130.5 L135.8 132.0 L133.4 132.0 L133.4 134.5 L129.0 134.5 L129.0 136.0 L125.5 136.0 L125.5 137.5 L128.1 137.5 L128.1 140.0 L129.0 140.0 L129.0 142.5 L128.3 142.5 L128.3 143.5 L129.2 143.5 L129.2 146.0 L127.1 146.0 L127.1 148.5 L131.2 148.5 L131.2 150.0 L131.4 150.0 L131.4 151.0 L132.8 151.0 L132.8 153.0 L133.6 153.0 L133.6 155.0 L132.8 155.0 L132.8 156.0 L134.6 156.0 L134.6 157.5 L134.5 157.5 L134.5 159.0 L131.0 159.0 L131.0 161.5 L132.7 161.5 L132.7 162.5 L132.9 162.5 L132.9 163.5 L132.4 163.5 L132.4 165.0 L133.6 165.0 L133.6 166.5 L132.6 166.5 L132.6 169.0 L133.5 169.0 L133.5 171.0 L132.4 171.0 L132.4 172.0 L132.7 172.0 L132.7 174.0 L132.3 174.0 L132.3 176.0 L132.0 176.0 L132.0 178.5 L131.5 178.5 L131.5 179.5 L132.3 179.5 L132.3 180.5 L132.3 180.5 L132.3 181.5 L133.2 181.5 L133.2 183.0 L131.9 183.0 L131.9 184.5 L131.7 184.5 L131.7 185.5 L131.5 185.5 L131.5 187.5 L130.6 187.5 L130.6 189.5 L132.7 189.5 L132.7 190.0 L146.1 190.0 L146.1 189.5 L144.9 189.5 L144.9 187.5 L144.9 187.5 L144.9 185.5 L145.1 185.5 L145.1 184.5 L146.4 184.5 L146.4 183.0 L146.2 183.0 L146.2 181.5 L146.2 181.5 L146.2 180.5 L144.7 180.5 L144.7 179.5 L145.9 179.5 L145.9 178.5 L146.1 178.5 L146.1 176.0 L145.8 176.0 L145.8 174.0 L145.7 174.0 L145.7 172.0 L146.0 172.0 L146.0 171.0 L143.5 171.0 L143.5 169.0 L143.0 169.0 L143.0 166.5 L142.7 166.5 L142.7 165.0 L142.2 165.0 L142.2 163.5 L142.7 163.5 L142.7 162.5 L144.0 162.5 L144.0 161.5 L142.7 161.5 L142.7 159.0 L142.1 159.0 L142.1 157.5 L141.7 157.5 L141.7 156.0 L144.6 156.0 L144.6 155.0 L143.9 155.0 L143.9 153.0 L141.9 153.0 L141.9 151.0 L145.0 151.0 L145.0 150.0 L143.3 150.0 L143.3 148.5 L145.1 148.5 L145.1 146.0 L146.9 146.0 L146.9 143.5 L144.5 143.5 L144.5 142.5 L144.2 142.5 L144.2 140.0 L145.7 140.0 L145.7 137.5 L151.2 137.5 L151.2 136.0 L146.7 136.0 L146.7 134.5 L142.5 134.5 L142.5 132.0 L143.8 132.0 L143.8 130.5 L142.4 130.5 L142.4 129.0 L145.2 129.0 L145.2 126.5 L142.8 126.5 L142.8 124.0 L143.5 124.0 L143.5 123.0 L145.7 123.0 L145.7 122.0 L143.0 122.0 L143.0 121.0 L142.1 121.0 L142.1 119.5 L142.8 119.5 L142.8 118.0 L145.6 118.0 L145.6 117.0 L144.1 117.0 L144.1 114.5 L143.3 114.5 L143.3 113.5 L144.1 113.5 L144.1 111.5 L143.1 111.5 L143.1 109.5 L145.1 109.5 L145.1 108.5 L144.2 108.5 L144.2 106.5 L145.2 106.5 L145.2 104.5 L144.7 104.5 L144.7 103.0 L143.3 103.0 L143.3 102.0 L145.2 102.0 L145.2 99.5 L145.7 99.5 L145.7 97.0 L144.7 97.0 L144.7 94.5 L143.5 94.5 L143.5 92.0 L144.0 92.0 L144.0 91.0 L145.0 91.0 L145.0 89.5 L145.0 89.5 L145.0 88.0 L144.4 88.0 L144.4 87.0 L144.7 87.0 L144.7 86.0 L143.7 86.0 L143.7 85.0 L142.7 85.0 L142.7 82.5 L144.6 82.5 L144.6 80.5 L142.6 80.5 L142.6 79.5 L142.4 79.5 L142.4 77.0 L143.9 77.0 L143.9 76.0 L142.1 76.0 L142.1 75.0 L142.9 75.0 L142.9 74.0 L143.5 74.0 L143.5 72.0 L144.1 72.0 L144.1 70.5 L142.1 70.5 L142.1 68.5 L142.6 68.5 L142.6 66.5 L143.4 66.5 L143.4 65.5 L143.8 65.5 L143.8 63.0 L145.0 63.0 L145.0 61.0 L142.8 61.0 L142.8 58.5 L142.6 58.5 L142.6 57.5 L143.8 57.5 L143.8 56.5 L142.7 56.5 L142.7 54.0 L142.0 54.0 L142.0 52.0 L144.8 52.0 L144.8 50.5 L143.7 50.5 L143.7 49.0 L143.3 49.0 L143.3 46.5 L142.5 46.5 L142.5 44.5 L142.5 44.5 L142.5 42.0 L142.1 42.0 L142.1 41.0 L143.3 41.0 L143.3 39.5 L144.5 39.5 L144.5 38.0 L143.1 38.0 L143.1 37.0 L144.0 37.0 L144.0 36.0 L143.6 36.0 L143.6 35.0 L142.0 35.0 L142.0 34.0 L142.2 34.0 L142.2 32.5 L146.2 32.5 L146.2 30.0 L144.2 30.0 L144.2 27.5 L144.9 27.5 L144.9 26.5 L143.6 26.5 L143.6 25.5 L143.0 25.5 L143.0 24.0 L143.5 24.0 L143.5 22.0 L142.5 22.0 L142.5 19.5 L142.5 19.5 L142.5 18.5 L142.6 18.5 L142.6 17.0 L143.4 17.0 L143.4 14.5 L143.9 14.5 L143.9 13.0 L143.6 13.0 L143.6 11.5 L143.5 11.5 L143.5 9.0 L142.8 9.0 L142.8 6.5 L145.7 6.5 L145.7 4.0Z" fill="#fff"/><path d="M127.6 136.2 H152 V138 H127.6Z" fill="#fff"/></g></g>
<g clip-path="url(#clipD)"><g transform="translate(307 218.3) scale(0.9981 0.9983) translate(-35.6 -7)"><g filter="url(#fa)"><rect x="30" y="0" width="220" height="190" fill="#6f6f6f"/><g filter="url(#bl6)"><rect x="30" y="0" width="60" height="190" fill="#6e6e6e"/><rect x="92" y="0" width="46" height="190" fill="#7d7d7d"/><rect x="110" y="0" width="28" height="190" fill="#838383"/><rect x="100" y="-10" width="38" height="55" fill="#7a7a7a"/><rect x="112" y="80" width="26" height="110" fill="#878787"/><rect x="139" y="0" width="10" height="190" fill="#7d7d7d"/></g><g filter="url(#bl3)"><path d="M141 72 L170 84 L176 98 L141 100Z" fill="#8a8a8a"/><path d="M141 128 L168 140 L170 152 L141 152Z" fill="#8a8a8a"/><path d="M141 160 L176 176 L176 184 L141 184Z" fill="#858585"/><rect x="112" y="0" width="25" height="190" fill="#838383"/></g><g filter="url(#bl05)"><path d="M141 136 L166 149" stroke="#999999" stroke-width="3.2"/><path d="M141 162 L175 182" stroke="#999999" stroke-width="2"/><path d="M141 170 L173 178" stroke="#8f8f8f" stroke-width="1.8"/><path d="M141 80 L168 96" stroke="#8f8f8f" stroke-width="1.8"/><path d="M141 92 L168 104" stroke="#8c8c8c" stroke-width="1.8"/><ellipse cx="156.6" cy="145.7" rx="2.4" ry="1.6" fill="#c2c2c2"/><ellipse cx="158" cy="97" rx="2.4" ry="1.5" fill="#adadad"/><path d="M100 62 H138" stroke="#8a8a8a" stroke-width="1.5"/><path d="M138 62 H165" stroke="#919191" stroke-width="1.6"/><path d="M138 62 H151" stroke="#a8a8a8" stroke-width="1.9"/><circle cx="140.5" cy="52" r="1.3" fill="#b2b2b2"/><path d="M36 156.4 H100" stroke="#8c8c8c" stroke-width="2"/><path d="M100 156.4 H138" stroke="#9c9c9c" stroke-width="2.2"/><path d="M138 156.4 H241" stroke="#a3a3a3" stroke-width="2.8"/><path d="M142 156.4 H214" stroke="#cccccc" stroke-width="3.4"/><path d="M150 156.6 H205" stroke="#dbdbdb" stroke-width="1.8"/><path d="M145 108.6 H241" stroke="#9e9e9e" stroke-width="2.2"/><path d="M156 108.6 H178" stroke="#b8b8b8" stroke-width="2.2"/><path d="M184 60 L193.8 88.7" stroke="#b2b2b2" stroke-width="2.8"/><path d="M187.5 70 L193.8 88.7" stroke="#cccccc" stroke-width="2.8"/><path d="M193.3 87 Q197 98 198 110.7" stroke="#ebebeb" stroke-width="3.6" fill="none"/><path d="M178.4 112 L188.5 140" stroke="#b2b2b2" stroke-width="2.8"/><path d="M182.5 123 L188.5 140" stroke="#cccccc" stroke-width="2.8"/><path d="M189.3 139 L189.6 157" stroke="#ebebeb" stroke-width="4"/><path d="M191 146 L197.5 149.5" stroke="#cccccc" stroke-width="1.8"/><path d="M190 159.5 L202.5 183" stroke="#b8b8b8" stroke-width="3.2"/><path d="M190 159.5 L202.5 183" stroke="#e6e6e6" stroke-width="3.8" stroke-dasharray="6 2.5"/><ellipse cx="232.5" cy="71.5" rx="2.2" ry="1.6" fill="#c2c2c2"/></g><ellipse cx="48" cy="67" rx="3.6" ry="1.9" fill="#919191" filter="url(#bl1)"/><path d="M137.6 0 V190" stroke="#666666" stroke-width="1.3"/></g></g></g>
<rect x="247.3" y="7" width="11.20" height="174.50" fill="url(#cbjet)"/>
<rect x="514.8" y="10" width="10.70" height="172.00" fill="url(#cbjet)"/>
<rect x="247.5" y="218" width="10.90" height="175.00" fill="url(#cbjet)"/>
<rect x="517.3" y="218.2" width="11.40" height="174.60" fill="url(#cbjet)"/>
<g font-family="'Liberation Serif', 'Times New Roman', serif"><text x="32.40" y="165.32" text-anchor="end" font-size="10.2" fill="#262626" >50</text><text x="32.40" y="144.70" text-anchor="end" font-size="10.2" fill="#262626" >100</text><text x="32.40" y="124.08" text-anchor="end" font-size="10.2" fill="#262626" >150</text><text x="32.40" y="103.46" text-anchor="end" font-size="10.2" fill="#262626" >200</text><text x="32.40" y="82.83" text-anchor="end" font-size="10.2" fill="#262626" >250</text><text x="32.40" y="62.21" text-anchor="end" font-size="10.2" fill="#262626" >300</text><text x="32.40" y="41.59" text-anchor="end" font-size="10.2" fill="#262626" >350</text><text x="32.40" y="20.97" text-anchor="end" font-size="10.2" fill="#262626" >400</text><text x="303.30" y="165.65" text-anchor="end" font-size="10.2" fill="#262626" >50</text><text x="303.30" y="145.24" text-anchor="end" font-size="10.2" fill="#262626" >100</text><text x="303.30" y="124.84" text-anchor="end" font-size="10.2" fill="#262626" >150</text><text x="303.30" y="104.44" text-anchor="end" font-size="10.2" fill="#262626" >200</text><text x="303.30" y="84.04" text-anchor="end" font-size="10.2" fill="#262626" >250</text><text x="303.30" y="63.64" text-anchor="end" font-size="10.2" fill="#262626" >300</text><text x="303.30" y="43.23" text-anchor="end" font-size="10.2" fill="#262626" >350</text><text x="303.30" y="22.83" text-anchor="end" font-size="10.2" fill="#262626" >400</text><text x="32.80" y="376.20" text-anchor="end" font-size="10.2" fill="#262626" >50</text><text x="32.80" y="355.65" text-anchor="end" font-size="10.2" fill="#262626" >100</text><text x="32.80" y="335.09" text-anchor="end" font-size="10.2" fill="#262626" >150</text><text x="32.80" y="314.54" text-anchor="end" font-size="10.2" fill="#262626" >200</text><text x="32.80" y="293.99" text-anchor="end" font-size="10.2" fill="#262626" >250</text><text x="32.80" y="273.44" text-anchor="end" font-size="10.2" fill="#262626" >300</text><text x="32.80" y="252.89" text-anchor="end" font-size="10.2" fill="#262626" >350</text><text x="32.80" y="232.34" text-anchor="end" font-size="10.2" fill="#262626" >400</text><text x="303.80" y="376.41" text-anchor="end" font-size="10.2" fill="#262626" >50</text><text x="303.80" y="355.87" text-anchor="end" font-size="10.2" fill="#262626" >100</text><text x="303.80" y="335.33" text-anchor="end" font-size="10.2" fill="#262626" >150</text><text x="303.80" y="314.79" text-anchor="end" font-size="10.2" fill="#262626" >200</text><text x="303.80" y="294.25" text-anchor="end" font-size="10.2" fill="#262626" >250</text><text x="303.80" y="273.71" text-anchor="end" font-size="10.2" fill="#262626" >300</text><text x="303.80" y="253.17" text-anchor="end" font-size="10.2" fill="#262626" >350</text><text x="303.80" y="232.63" text-anchor="end" font-size="10.2" fill="#262626" >400</text><text x="35.60" y="194.00" text-anchor="middle" font-size="10.2" fill="#262626" >−60</text><text x="69.92" y="194.00" text-anchor="middle" font-size="10.2" fill="#262626" >−40</text><text x="104.24" y="194.00" text-anchor="middle" font-size="10.2" fill="#262626" >−20</text><text x="138.56" y="194.00" text-anchor="middle" font-size="10.2" fill="#262626" >0</text><text x="172.88" y="194.00" text-anchor="middle" font-size="10.2" fill="#262626" >20</text><text x="207.20" y="194.00" text-anchor="middle" font-size="10.2" fill="#262626" >40</text><text x="36.00" y="406.00" text-anchor="middle" font-size="10.2" fill="#262626" >−60</text><text x="70.19" y="406.00" text-anchor="middle" font-size="10.2" fill="#262626" >−40</text><text x="104.37" y="406.00" text-anchor="middle" font-size="10.2" fill="#262626" >−20</text><text x="138.56" y="406.00" text-anchor="middle" font-size="10.2" fill="#262626" >0</text><text x="172.74" y="406.00" text-anchor="middle" font-size="10.2" fill="#262626" >20</text><text x="206.93" y="406.00" text-anchor="middle" font-size="10.2" fill="#262626" >40</text><text x="307.00" y="406.00" text-anchor="middle" font-size="10.2" fill="#262626" >−60</text><text x="341.25" y="406.00" text-anchor="middle" font-size="10.2" fill="#262626" >−40</text><text x="375.50" y="406.00" text-anchor="middle" font-size="10.2" fill="#262626" >−20</text><text x="409.76" y="406.00" text-anchor="middle" font-size="10.2" fill="#262626" >0</text><text x="444.01" y="406.00" text-anchor="middle" font-size="10.2" fill="#262626" >20</text><text x="478.26" y="406.00" text-anchor="middle" font-size="10.2" fill="#262626" >40</text><text x="340.01" y="194.50" text-anchor="middle" font-size="10.2" fill="#262626" >−20</text><text x="374.31" y="194.50" text-anchor="middle" font-size="10.2" fill="#262626" >−10</text><text x="408.61" y="194.50" text-anchor="middle" font-size="10.2" fill="#262626" >0</text><text x="442.91" y="194.50" text-anchor="middle" font-size="10.2" fill="#262626" >10</text><text x="477.21" y="194.50" text-anchor="middle" font-size="10.2" fill="#262626" >20</text><text x="262.00" y="163.45" text-anchor="start" font-size="10.2" fill="#262626" >0</text><text x="262.00" y="132.77" text-anchor="start" font-size="10.2" fill="#262626" >20</text><text x="262.00" y="102.10" text-anchor="start" font-size="10.2" fill="#262626" >40</text><text x="262.00" y="71.42" text-anchor="start" font-size="10.2" fill="#262626" >60</text><text x="262.00" y="40.75" text-anchor="start" font-size="10.2" fill="#262626" >80</text><text x="261.90" y="375.25" text-anchor="start" font-size="10.2" fill="#262626" >0</text><text x="261.90" y="344.55" text-anchor="start" font-size="10.2" fill="#262626" >20</text><text x="261.90" y="313.85" text-anchor="start" font-size="10.2" fill="#262626" >40</text><text x="261.90" y="283.15" text-anchor="start" font-size="10.2" fill="#262626" >60</text><text x="261.90" y="252.45" text-anchor="start" font-size="10.2" fill="#262626" >80</text><text x="532.20" y="375.25" text-anchor="start" font-size="10.2" fill="#262626" >0</text><text x="532.20" y="344.55" text-anchor="start" font-size="10.2" fill="#262626" >20</text><text x="532.20" y="313.85" text-anchor="start" font-size="10.2" fill="#262626" >40</text><text x="532.20" y="283.15" text-anchor="start" font-size="10.2" fill="#262626" >60</text><text x="532.20" y="252.45" text-anchor="start" font-size="10.2" fill="#262626" >80</text><text x="529.00" y="13.95" text-anchor="start" font-size="10.2" fill="#262626" >0.2</text><text x="529.00" y="35.40" text-anchor="start" font-size="10.2" fill="#262626" >0.15</text><text x="529.00" y="56.85" text-anchor="start" font-size="10.2" fill="#262626" >0.1</text><text x="529.00" y="78.30" text-anchor="start" font-size="10.2" fill="#262626" >0.05</text><text x="529.00" y="99.75" text-anchor="start" font-size="10.2" fill="#262626" >0</text><text x="529.00" y="121.20" text-anchor="start" font-size="10.2" fill="#262626" >-0.05</text><text x="529.00" y="142.65" text-anchor="start" font-size="10.2" fill="#262626" >-0.1</text><text x="529.00" y="164.10" text-anchor="start" font-size="10.2" fill="#262626" >-0.15</text><text x="529.00" y="185.55" text-anchor="start" font-size="10.2" fill="#262626" >-0.2</text><text x="138.70" y="208.10" text-anchor="middle" font-size="10.75" fill="#262626" >Doppler Frequency (Hz)</text><text x="407.60" y="208.10" text-anchor="middle" font-size="10.75" fill="#262626" >Doppler Frequency (Hz)</text><text x="138.60" y="419.30" text-anchor="middle" font-size="10.75" fill="#262626" >Doppler Frequency (Hz)</text><text x="409.60" y="419.30" text-anchor="middle" font-size="10.75" fill="#262626" >Doppler Frequency (Hz)</text><text transform="translate(12.40 94.50) rotate(-90)" text-anchor="middle" font-size="10.75" fill="#262626">Time (s)</text><text transform="translate(285.10 95.60) rotate(-90)" text-anchor="middle" font-size="10.75" fill="#262626">Time (s)</text><text transform="translate(12.40 305.10) rotate(-90)" text-anchor="middle" font-size="10.75" fill="#262626">Time (s)</text><text transform="translate(285.10 306.00) rotate(-90)" text-anchor="middle" font-size="10.75" fill="#262626">Time (s)</text><text transform="translate(255.60 91.45) rotate(-90)" text-anchor="middle" font-size="8" fill="#111">Power (dB)</text><text transform="translate(255.65 302.70) rotate(-90)" text-anchor="middle" font-size="8" fill="#111">Power (dB)</text><text transform="translate(525.70 302.70) rotate(-90)" text-anchor="middle" font-size="8" fill="#111">Power (dB)</text><text transform="translate(522.55 91.9) rotate(-90)" text-anchor="middle" font-size="8.6" fill="#111">Δ<tspan font-size="9.6">φ</tspan><tspan font-size="6" dy="1.6">g</tspan><tspan dy="-1.6"> (rad)</tspan></text><text x="43.7" y="23.0" font-size="13.8" fill="#111">(a)</text><text x="314.4" y="25.0" font-size="13.8" fill="#fff">(b)</text><text x="43.7" y="233.8" font-size="13.8" fill="#111">(c)</text><text x="314.9" y="234.2" font-size="13.8" fill="#111">(d)</text></g>
</svg></body></html>
